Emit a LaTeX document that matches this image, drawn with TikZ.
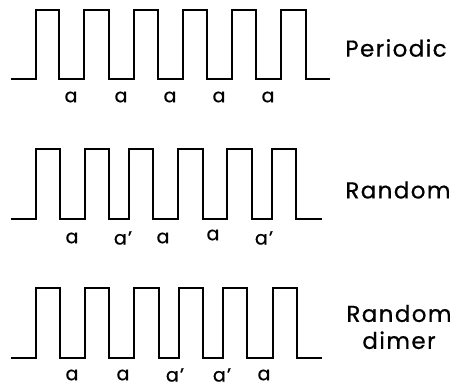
\documentclass[tikz,border=0pt]{standalone}
\usepackage{fontspec}
\setmainfont{Poppins}[LetterSpace=6, FakeBold=0.6]
\usepackage{tikz}
\tikzstyle{wave} = [line width=1.2pt, line join=miter]
\tikzstyle{welllabel} = [font=\fontsize{19}{19}\selectfont, inner sep=0pt]
\tikzstyle{seqtitle} = [font=\fontsize{23}{27}\selectfont, align=center, inner sep=0pt]

\begin{document}
\begin{tikzpicture}[x=1pt, y=-1pt]
\useasboundingbox (0,0) rectangle (454,385);

% Periodic
\draw [wave] (11,79) -- (36,79) -- (36,10) -- (59,10) -- (59,79) -- (84,79) -- (84,10) -- (109,10) -- (109,79) -- (134,79) -- (134,10) -- (158,10) -- (158,79) -- (183,79) -- (183,10) -- (207,10) -- (207,79) -- (232,79) -- (232,10) -- (256,10) -- (256,79) -- (281,79) -- (281,10) -- (306,10) -- (306,79) -- (330,79);

\node (p1) [welllabel] at (71,97) {a};
\node (p2) [welllabel] at (121,97) {a};
\node (p3) [welllabel] at (170,97) {a};
\node (p4) [welllabel] at (219,97) {a};
\node (p5) [welllabel] at (268,97) {a};

\node (periodic) [seqtitle] at (396,48) {Periodic};

% Random
\draw [wave] (11,219) -- (36,219) -- (36,149) -- (60,149) -- (60,219) -- (85,219) -- (85,149) -- (109,149) -- (109,219) -- (129,219) -- (129,149) -- (153,149) -- (153,219) -- (178,219) -- (178,149) -- (203,149) -- (203,219) -- (227,219) -- (227,149) -- (252,149) -- (252,219) -- (272,219) -- (272,149) -- (296,149) -- (296,219) -- (322,219);

\node (r1) [welllabel] at (72,238) {a};
\node (r2) [welllabel] at (123,238) {a'};
\node (r3) [welllabel] at (163,238) {a};
\node (r4) [welllabel] at (213,235) {a};
\node (r5) [welllabel] at (264,238) {a'};

\node (random) [seqtitle] at (398,190) {Random};

% Random dimer
\draw [wave] (11,358) -- (36,358) -- (36,288) -- (60,288) -- (60,358) -- (85,358) -- (85,288) -- (109,288) -- (109,358) -- (134,358) -- (134,288) -- (159,288) -- (159,358) -- (179,358) -- (179,288) -- (203,288) -- (203,358) -- (223,358) -- (223,288) -- (247,288) -- (247,358) -- (273,358) -- (273,288) -- (297,288) -- (297,358) -- (322,358);

\node (d1) [welllabel] at (72,375) {a};
\node (d2) [welllabel] at (123,375) {a};
\node (d3) [welllabel] at (175,375) {a'};
\node (d4) [welllabel] at (222,375) {a'};
\node (d5) [welllabel] at (264,375) {a};

\node (dimer) [seqtitle] at (399,327) {Random\\dimer};

\end{tikzpicture}
\end{document}
